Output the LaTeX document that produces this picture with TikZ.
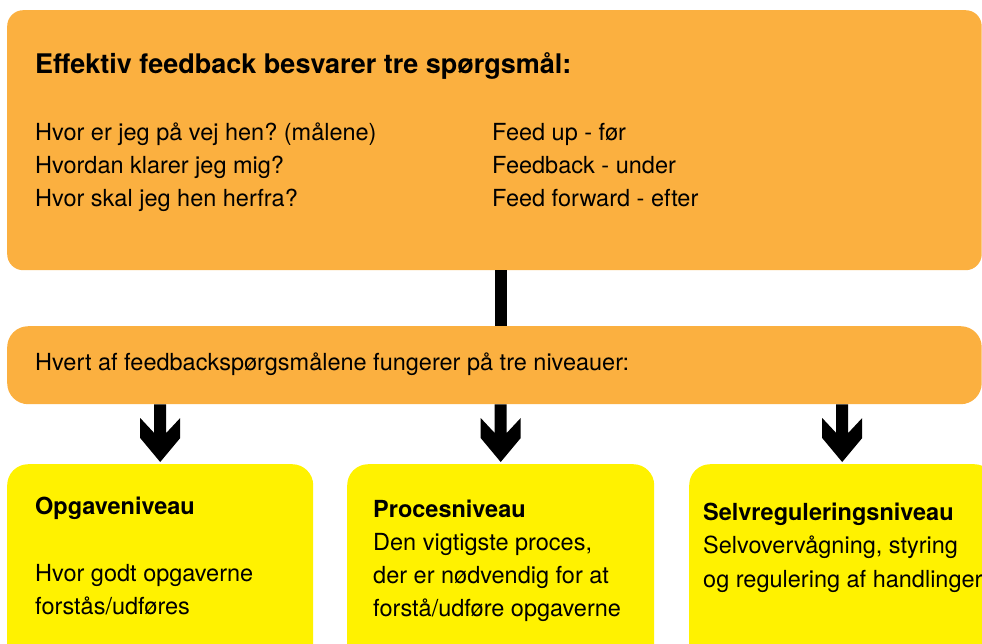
\documentclass[tikz,border=0pt]{standalone}
\usepackage{fontspec}
\setmainfont{TeX Gyre Heros}
\usetikzlibrary{calc}
\definecolor{borange}{HTML}{FBB040}
\definecolor{byellow}{HTML}{FFF200}
\frenchspacing
\tikzset{
  obox/.style={fill=borange, draw=none, rounded corners=16pt, anchor=north west, inner sep=0pt},
  ybox/.style={fill=byellow, draw=none, rounded corners=21pt, anchor=north west, inner sep=0pt, minimum height=240pt},
  txt/.style={anchor=base west, inner sep=0pt, font=\fontsize{23.5}{28}\selectfont},
  btxt/.style={anchor=base west, inner sep=0pt, font=\fontsize{23.5}{28}\selectfont\bfseries},
  ttl/.style={anchor=base west, inner sep=0pt, font=\fontsize{27}{32}\selectfont\bfseries},
  bar/.style={line width=12pt, draw=black},
  chev/.style={to path={let \p1=(\tikztostart), \p2=(\tikztotarget) in
    (\x1-6pt,\y1) -- (\x1-6pt,\y2+29pt) -- (\x1-20pt,\y2+44pt) -- (\x1-20pt,\y2+24pt) -- (\x1,\y2)
    -- (\x1+20pt,\y2+24pt) -- (\x1+20pt,\y2+44pt) -- (\x1+6pt,\y2+29pt) -- (\x1+6pt,\y1) -- cycle}}
}
\begin{document}
\frenchspacing
\begin{tikzpicture}[x=1pt,y=-1pt]
\useasboundingbox (0,0) rectangle (982,643);
\clip (0,0) rectangle (982,643);
% boxes
\node[obox, minimum width=974.5pt, minimum height=260pt] (top) at (7,10) {};
\node[obox, rounded corners=21pt, minimum width=974.5pt, minimum height=78pt] (mid) at (7,326) {};
\node[ybox, minimum width=306pt] (ov) at (7,464) {};
\node[ybox, minimum width=307pt] (pv) at (347,464) {};
\node[ybox, minimum width=306pt] (sv) at (689,464) {};
% connectors
\draw[bar] (top.south -| pv.north) -- (mid.north -| pv.north);
\fill (mid.south -| ov.north) to[chev] ([yshift=2pt]ov.north);
\fill (mid.south -| pv.north) to[chev] ([yshift=2pt]pv.north);
\fill (mid.south -| sv.north) to[chev] ([yshift=2pt]sv.north);
% top text
\node[ttl] (t0) at (35,73) {Effektiv feedback besvarer tre spørgsmål:};
\node[txt] (t1) at (35,140) {Hvor er jeg på vej hen? (målene)};
\node[txt] (t2) at (35,173) {Hvordan klarer jeg mig?};
\node[txt] (t3) at (35,206) {Hvor skal jeg hen herfra?};
\node[txt] (f1) at (492,140) {Feed up - før};
\node[txt] (f2) at (492,173) {Feedback - under};
\node[txt] (f3) at (492,206) {Feed forward - efter};
% middle text
\node[txt] (m1) at (35,370) {Hvert af feedbackspørgsmålene fungerer på tre niveauer:};
% yellow texts
\node[btxt] (o0) at (35,514) {Opgaveniveau};
\node[txt] (o1) at (35,581) {Hvor godt opgaverne};
\node[txt] (o2) at (35,614) {forstås/udføres};
\node[btxt] (p0) at (373,517) {Procesniveau};
\node[txt] (p1) at (373,550) {Den vigtigste proces,};
\node[txt] (p2) at (373,583) {der er nødvendig for at};
\node[txt] (p3) at (373,616) {forstå/udføre opgaverne};
\node[btxt] (s0) at (703,520) {Selvreguleringsniveau};
\node[txt] (s1) at (703,553) {Selvovervågning, styring};
\node[txt] (s2) at (703,587) {og regulering af handlinger};
\end{tikzpicture}
\end{document}
